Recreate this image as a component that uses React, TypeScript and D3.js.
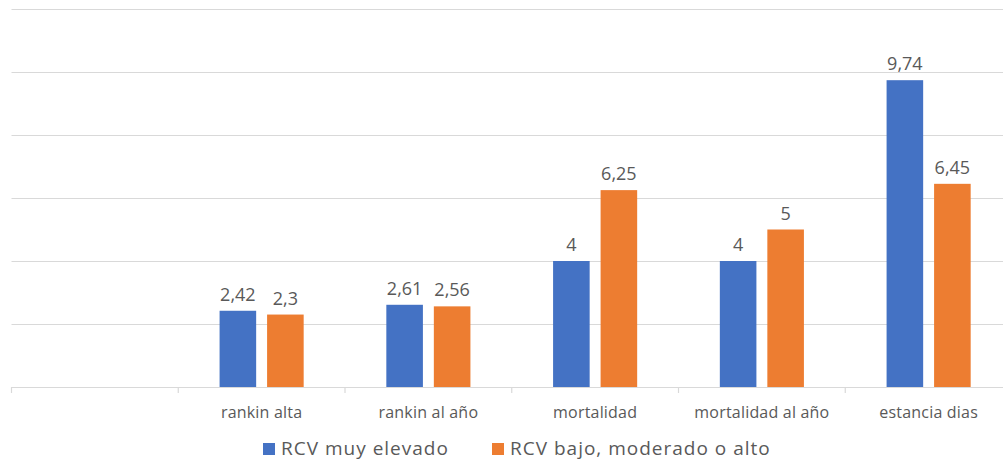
import React from 'react';
import { scaleBand, scaleLinear, range } from 'd3';

const categories = ['', 'rankin alta', 'rankin al año', 'mortalidad', 'mortalidad al año', 'estancia dias'];
const seriesNames = ['RCV muy elevado', 'RCV bajo, moderado o alto'];
const muyElevado = [null, 2.42, 2.61, 4, 4, 9.74];
const bajoModerado = [null, 2.3, 2.56, 6.25, 5, 6.45];
const yTicks = [0, 2, 4, 6, 8, 10, 12];

const colors = ['#4472C4', '#ED7D31'];
const W = 1003;
const H = 461;
const font = '"Open Sans", "Liberation Sans", sans-serif';

const fmt = (v: number) => String(v).replace('.', ',');

const App: React.FC = () => {
  const x = scaleBand<string>().domain(categories.map((c, i) => String(i))).range([11.5, 1012]);
  const x1 = scaleBand<string>()
    .domain(['0', '1'])
    .range([0, x.bandwidth()])
    .paddingInner(0.23)
    .paddingOuter(0.87);
  const y = scaleLinear().domain([0, 12]).range([387, 9]);

  const series = [muyElevado, bajoModerado];
  const legendX = [263, 492];

  return (
    <div style={{ position: 'absolute', left: 0, top: 0 }}>
      <svg width={W} height={H} style={{ display: 'block', background: '#fff' }}>
        {/* grid */}
        {yTicks.map(t => (
          <line key={t} x1={11.5} x2={1012} y1={y(t) + 0.5} y2={y(t) + 0.5} stroke="#d9d9d9" strokeWidth={1.2} />
        ))}
        {/* category ticks */}
        {range(categories.length + 1).map(i => {
          const xx = i < categories.length ? x(String(i))! : x(String(i - 1))! + x.bandwidth();
          return <line key={i} x1={xx} x2={xx} y1={387} y2={393} stroke="#d9d9d9" strokeWidth={1.2} />;
        })}
        {/* bars */}
        {categories.map((c, i) => (
          <g key={i} transform={`translate(${x(String(i))}, 0)`}>
            {series.map((s, k) => {
              const v = s[i];
              if (v == null) return null;
              const bx = x1(String(k))!;
              return (
                <g key={k}>
                  <rect x={bx} y={y(v)} width={x1.bandwidth()} height={387 - y(v)} fill={colors[k]} />
                  <text
                    x={bx + x1.bandwidth() / 2}
                    y={y(v) - 10}
                    textAnchor="middle"
                    fontFamily={font}
                    fontSize={18}
                    fill="#595959"
                  >
                    {fmt(v)}
                  </text>
                </g>
              );
            })}
            <text
              x={x.bandwidth() / 2}
              y={418}
              textAnchor="middle"
              fontFamily={font}
              fontSize={16}
              letterSpacing={0.2}
              fill="#595959"
            >
              {c}
            </text>
          </g>
        ))}
        {/* legend */}
        {seriesNames.map((n, k) => (
          <g key={n} transform={`translate(${legendX[k]}, 443)`}>
            <rect x={0} y={0} width={12} height={12} fill={colors[k]} />
            <text x={18} y={12} fontFamily={font} fontSize={19} letterSpacing={1} fill="#595959">
              {n}
            </text>
          </g>
        ))}
      </svg>
    </div>
  );
};

export default App;
